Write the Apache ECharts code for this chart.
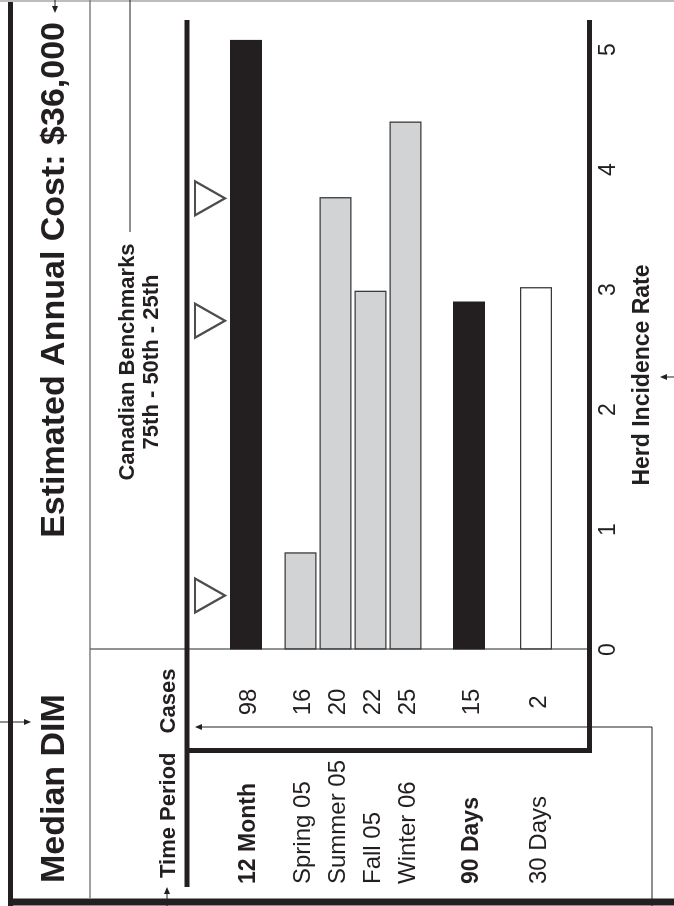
<!DOCTYPE html>
<html>
<head>
<meta charset="utf-8">
<script src="https://cdn.jsdelivr.net/npm/echarts@6.0.0/dist/echarts.min.js"></script>
<style>
html,body{margin:0;padding:0;width:674px;height:906px;overflow:hidden;background:#fff;}
#chart{position:absolute;left:0;top:0;width:906px;height:674px;transform-origin:0 0;transform:rotate(-90deg) translateX(-100%);}
</style>
</head>
<body>
<div id="chart"></div>
<script>
// ---------- data ----------
const categories = ['12 Month', 'Spring 05', 'Summer 05', 'Fall 05', 'Winter 06', '90 Days', '30 Days'];
const cases = [98, 16, 20, 22, 25, 15, 2];
const incidenceRates = [5.08, 0.81, 3.77, 2.99, 4.40, 2.90, 3.02];
const periodKind = ['total', 'quarter', 'quarter', 'quarter', 'quarter', 'total', 'recent'];
const benchmarkNames = ['75th', '50th', '25th'];
const benchmarkRates = [0.45, 2.74, 3.76];
const rateTicks = [0, 1, 2, 3, 4, 5];
const groups = [[0], [1, 2, 3, 4], [5, 6]];
const boldRows = ['12 Month', '90 Days'];

// ---------- styles / layout ----------
const FONT = '"Liberation Sans", Arial, Helvetica, sans-serif';
const INK = '#231f20';
const kindStyle = {
  total:   { color: INK, borderColor: INK, borderWidth: 0 },
  quarter: { color: '#d1d3d4', borderColor: '#3a3a3a', borderWidth: 1.3 },
  recent:  { color: '#ffffff', borderColor: '#3a3a3a', borderWidth: 1.3 }
};
const plotLeft = 256.5, plotRight = 49.5;
const benchLayout = { top: 195, height: 30 };
const groupLayout = [
  { top: 228.5, height: 35 },
  { top: 283, height: 140 },
  { top: 435.5, height: 134 }
];
const axisY = 589.5;

const grids = [benchLayout].concat(groupLayout).map(l => ({
  left: plotLeft, right: plotRight, top: l.top, height: l.height, containLabel: false
}));
const lastIdx = grids.length - 1;
const lastBottom = groupLayout[groupLayout.length - 1].top + groupLayout[groupLayout.length - 1].height;

const xAxes = grids.map((g, i) => ({
  gridIndex: i,
  type: 'value',
  min: rateTicks[0],
  max: rateTicks[rateTicks.length - 1],
  interval: 1,
  show: i === lastIdx,
  offset: axisY - lastBottom,
  axisLine: { show: false },
  axisTick: { show: false },
  splitLine: { show: false },
  axisLabel: { show: i === lastIdx, margin: 8, fontSize: 23, fontFamily: FONT, color: INK },
  name: i === lastIdx ? 'Herd Incidence Rate' : '',
  nameLocation: 'middle',
  nameGap: 42,
  nameTextStyle: { fontSize: 23, fontWeight: 'bold', fontFamily: FONT, color: INK, padding: [0, 51, 0, 0] }
}));

const yAxes = [{
  gridIndex: 0, type: 'category', inverse: true, data: ['Canadian Benchmarks'], show: false
}].concat(groups.map((grp, g) => ({
  gridIndex: g + 1,
  type: 'category',
  inverse: true,
  data: grp.map(i => categories[i]),
  axisLine: { show: false },
  axisTick: { show: false },
  splitLine: { show: false },
  axisLabel: {
    show: true,
    interval: 0,
    align: 'left',
    margin: plotLeft - 22,
    padding: [6, 0, 0, 0],
    formatter: function (v) {
      const i = categories.indexOf(v);
      const k = boldRows.indexOf(v) >= 0 ? 'tb' : 't';
      return '{' + k + '|' + v + '}{c|' + cases[i] + '}';
    },
    rich: {
      t:  { fontSize: 24, fontFamily: FONT, color: INK, width: 152, align: 'left' },
      tb: { fontSize: 23, fontWeight: 'bold', fontFamily: FONT, color: INK, width: 152, align: 'left' },
      c:  { fontSize: 24, fontFamily: FONT, color: INK, width: 60, align: 'center' }
    }
  }
})));

const series = groups.map((grp, g) => ({
  type: 'bar',
  name: 'Herd Incidence Rate',
  xAxisIndex: g + 1,
  yAxisIndex: g + 1,
  barWidth: 32,
  clip: false,
  data: grp.map(i => ({ name: categories[i], value: incidenceRates[i], itemStyle: kindStyle[periodKind[i]] }))
}));
series.push({
  type: 'scatter',
  name: 'Canadian Benchmarks',
  xAxisIndex: 0,
  yAxisIndex: 0,
  symbol: 'triangle',
  symbolRotate: 180,
  symbolSize: [34, 30],
  clip: false,
  itemStyle: { color: '#ffffff', borderColor: INK, borderWidth: 2.2 },
  data: benchmarkRates.map((r, i) => ({ name: benchmarkNames[i], value: [r, 0] }))
});

// ---------- frame graphics ----------
function line(x1, y1, x2, y2, w, c) {
  return { type: 'line', silent: true, shape: { x1, y1, x2, y2 }, style: { stroke: c, lineWidth: w } };
}
function head(x, y, dir) {
  const L = 7, H = 3;
  let pts;
  if (dir === 'up') pts = [[x, y], [x - H, y + L], [x + H, y + L]];
  if (dir === 'down') pts = [[x, y], [x - H, y - L], [x + H, y - L]];
  if (dir === 'left') pts = [[x, y], [x + L, y - H], [x + L, y + H]];
  if (dir === 'right') pts = [[x, y], [x - L, y - H], [x - L, y + H]];
  return { type: 'polygon', silent: true, shape: { points: pts }, style: { fill: INK } };
}
function txt(x, y, text, size, weight, align) {
  return { type: 'text', x, y, silent: true, style: { text, font: weight + ' ' + size + 'px ' + FONT, fill: INK, align, verticalAlign: 'middle' } };
}

const graphics = [
  line(0, 10.5, 906, 10.5, 5, INK),           // outer frame (image left)
  line(4, 8, 4, 674, 7, INK),                 // outer frame (image bottom)
  line(905, 0, 905, 674, 2, '#bdbdbd'),       // image top edge
  line(8, 90, 906, 90, 1.5, '#808080'),       // title separator
  line(257, 90, 257, 588, 1.5, '#6d6e71'),    // zero baseline / header separator
  line(19, 187, 886, 187, 5, INK),            // box top
  line(155.5, 187, 155.5, 592, 5, INK),       // box between period & cases
  line(153, axisY, 886, axisY, 5, INK),       // value axis line
  line(674, 130, 906, 130, 1, INK),           // benchmark leader
  // callout arrows
  line(0, 652, 179, 652, 1, INK), line(179, 652, 179, 201, 1, INK), head(179, 195, 'up'),
  line(184, 0, 184, 24, 1, INK), head(184, 31, 'down'),
  line(0, 167, 12, 167, 1, INK), head(19, 167, 'right'),
  line(906, 55, 899, 55, 1, INK), head(893, 55, 'left'),
  line(529, 674, 529, 666, 1, INK), head(529, 660, 'up'),
  // header texts
  txt(544, 128, 'Canadian Benchmarks', 22, 'bold', 'center'),
  txt(544, 152, benchmarkNames.join(' - '), 22, 'bold', 'center'),
  txt(28, 169, 'Time Period', 22, 'bold', 'left'),
  txt(205, 169, 'Cases', 22, 'bold', 'center')
];

const option = {
  backgroundColor: '#ffffff',
  animation: false,
  title: [
    { text: 'Median DIM', left: 23, top: 37.5, padding: 0,
      textStyle: { fontSize: 34, fontWeight: 'bold', fontFamily: FONT, color: INK } },
    { text: 'Estimated Annual Cost: $36,000', right: 22, top: 37.5, padding: 0,
      textStyle: { fontSize: 34, fontWeight: 'bold', fontFamily: FONT, color: INK } }
  ],
  grid: grids,
  xAxis: xAxes,
  yAxis: yAxes,
  series: series,
  graphic: graphics
};

const chart = echarts.init(document.getElementById('chart'), null, { renderer: 'canvas' });
chart.setOption(option);
</script>
</body>
</html>
